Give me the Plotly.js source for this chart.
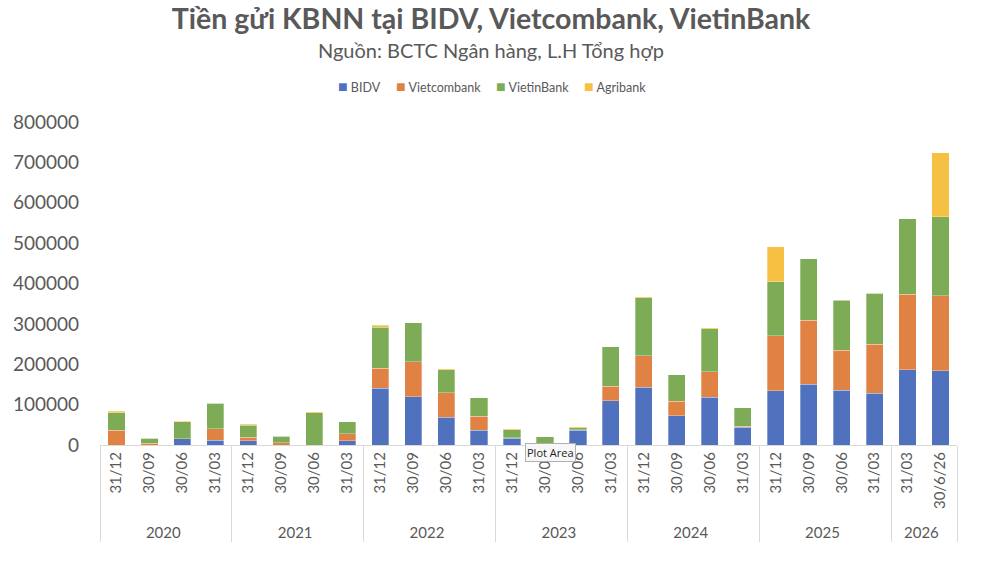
<!DOCTYPE html>
<html>
<head>
<meta charset="utf-8">
<script src="https://cdn.plot.ly/plotly-3.0.1.min.js"></script>
<style>
  html, body { margin: 0; padding: 0; background: #fff; }
  #chart { width: 1000px; height: 561px; }
</style>
</head>
<body>
<div id="chart"></div>
<script>
// Tiền gửi KBNN tại các ngân hàng.

const years = [
    "2020", "2020", "2020", "2020",
    "2021", "2021", "2021", "2021",
    "2022", "2022", "2022", "2022",
    "2023", "2023", "2023", "2023",
    "2024", "2024", "2024", "2024",
    "2025", "2025", "2025", "2025",
    "2026", "2026",
];
const dates = [
    "31/12", "30/09", "30/06", "31/03",
    "31/12", "30/09", "30/06", "31/03",
    "31/12", "30/09", "30/06", "31/03",
    "31/12", "30/09", "30/06", "31/03",
    "31/12", "30/09", "30/06", "31/03",
    "31/12", "30/09", "30/06", "31/03",
    "31/03", "30/6/26",
];

const bidv = [
    0, 0, 15000, 12000,
    10000, 0, 0, 10000,
    140000, 120000, 69000, 37000,
    17000, 0, 37000, 109000,
    143000, 73000, 118000, 44000,
    134000, 151000, 135000, 128000,
    186000, 184000,
];
const vietcombank = [
    37000, 4000, 0, 28000,
    9000, 5000, 0, 18000,
    50000, 86000, 60000, 34000,
    1000, 0, 1000, 36000,
    78000, 35000, 63000, 2000,
    136000, 158000, 100000, 122000,
    188000, 186000,
];
const vietinbank = [
    43000, 13000, 42000, 63000,
    30000, 17000, 80000, 29000,
    102000, 97000, 57000, 46000,
    20000, 21000, 5000, 98000,
    144000, 66000, 107000, 46000,
    134000, 152000, 123000, 126000,
    186000, 195000,
];
const agribank = [
    4000, 0, 1500, 0,
    2500, 0, 2000, 0,
    5000, 0, 2500, 0,
    2000, 0, 2500, 0,
    2500, 0, 2500, 0,
    87000, 0, 2000, 0,
    0, 159000,
];

const FONT = "Lato, 'Open Sans', sans-serif";
const GREY = "#595959";

const series = [
    { name: "BIDV",        values: bidv,        color: "#4f71be" },
    { name: "Vietcombank", values: vietcombank, color: "#df8244" },
    { name: "VietinBank",  values: vietinbank,  color: "#7eab55" },
    { name: "Agribank",    values: agribank,    color: "#f6c143" },
];

// plot area in pixels, used to place paper-referenced text
const PL = 100, PR = 957, PT = 122, PB = 445;
const px = x => (x - PL) / (PR - PL);
const py = y => (PB - y) / (PB - PT);

const traces = series.map(s => ({
    type: "bar",
    name: s.name,
    x: [years, dates],
    y: s.values,
    marker: { color: s.color, line: { color: "rgba(255,255,255,0.6)", width: 0.5 } },
    hoverinfo: "skip",
}));

// Excel-style compact legend: small square right next to the label
const legendLeft = [336, 394, 494, 582];
const legendNotes = series.map((s, i) => ({
    text: `<span style="color:${s.color};font-size:16px">■</span> ${s.name}`,
    xref: "paper", yref: "paper",
    x: px(legendLeft[i]), xanchor: "left",
    y: py(85), yanchor: "middle",
    showarrow: false,
    font: { family: FONT, size: 12.5, color: GREY },
}));

const layout = {
    width: 1000,
    height: 561,
    paper_bgcolor: "#fff",
    plot_bgcolor: "#fff",
    barmode: "stack",
    bargap: 0.48,
    showlegend: false,
    margin: { t: PT, b: 561 - PB, l: PL, r: 1000 - PR },
    font: { family: FONT, color: GREY },
    title: {
        text: "<b>Tiền gửi KBNN tại BIDV, Vietcombank, VietinBank</b>",
        font: { family: FONT, size: 28.5, color: GREY },
        x: 0.491, xanchor: "center",
        y: 0.966, yanchor: "middle",
        xref: "container", yref: "container",
    },
    annotations: [
        {
            text: "Nguồn: BCTC Ngân hàng, L.H Tổng hợp",
            xref: "paper", yref: "paper",
            x: px(491), xanchor: "center",
            y: py(50), yanchor: "middle",
            showarrow: false,
            font: { family: FONT, size: 20, color: GREY },
        },
        {
            text: "Plot Area",
            xref: "paper", yref: "paper",
            x: px(550), xanchor: "center",
            y: py(452), yanchor: "middle",
            showarrow: false,
            font: { family: "'Open Sans', sans-serif", size: 11, color: "#222" },
            bgcolor: "#f7f7f7",
            bordercolor: "#b0b0b0",
            borderwidth: 1,
            borderpad: 1,
        },
        ...legendNotes,
    ],
    xaxis: {
        type: "multicategory",
        tickangle: -90,
        tickfont: { family: FONT, size: 15, color: GREY },
        showline: true,
        linecolor: "#d9d9d9",
        showdividers: true,
        dividercolor: "#d9d9d9",
        dividerwidth: 1,
        ticks: "",
        showgrid: false,
    },
    yaxis: {
        range: [0, 800000],
        dtick: 100000,
        tickformat: "d",
        tickfont: { family: FONT, size: 19, color: GREY },
        showgrid: false,
        zeroline: false,
        showline: false,
        ticklabelstandoff: 20,
    },
};

Plotly.newPlot("chart", traces, layout, { displayModeBar: false, staticPlot: true });
</script>
</body>
</html>
